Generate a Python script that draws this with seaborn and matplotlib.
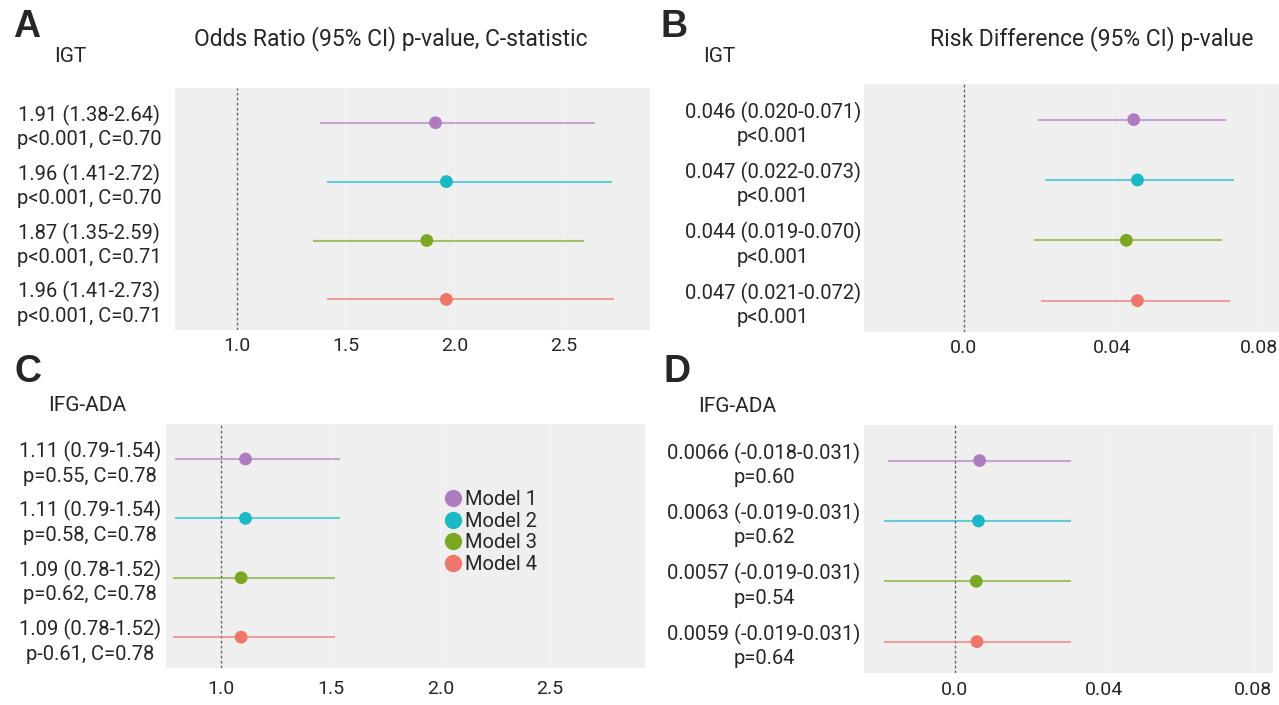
import matplotlib.pyplot as plt
import numpy as np
import pandas as pd
import seaborn as sns

models = ["Model 1", "Model 2", "Model 3", "Model 4"]
colors = ["#B07CC0", "#1DB8C6", "#7BA823", "#F0756B"]

# A - IGT, odds ratio
a_est = [1.91, 1.96, 1.87, 1.96]
a_lo = [1.38, 1.41, 1.35, 1.41]
a_hi = [2.64, 2.72, 2.59, 2.73]
a_p = ["p<0.001", "p<0.001", "p<0.001", "p<0.001"]
a_c = [0.70, 0.70, 0.71, 0.71]

# B - IGT, risk difference
b_est = [0.046, 0.047, 0.044, 0.047]
b_lo = [0.020, 0.022, 0.019, 0.021]
b_hi = [0.071, 0.073, 0.070, 0.072]
b_p = ["p<0.001", "p<0.001", "p<0.001", "p<0.001"]

# C - IFG-ADA, odds ratio
c_est = [1.11, 1.11, 1.09, 1.09]
c_lo = [0.79, 0.79, 0.78, 0.78]
c_hi = [1.54, 1.54, 1.52, 1.52]
c_p = ["p=0.55", "p=0.58", "p=0.62", "p-0.61"]
c_c = [0.78, 0.78, 0.78, 0.78]

# D - IFG-ADA, risk difference
d_est = [0.0066, 0.0063, 0.0057, 0.0059]
d_lo = [-0.018, -0.019, -0.019, -0.019]
d_hi = [0.031, 0.031, 0.031, 0.031]
d_p = ["p=0.60", "p=0.62", "p=0.54", "p=0.64"]

or_ticks = [1.0, 1.5, 2.0, 2.5]
or_ticklabels = ["1.0", "1.5", "2.0", "2.5"]
rd_ticks = [0.0, 0.04, 0.08]
rd_ticklabels = ["0.0", "0.04", "0.08"]

a_labels = [f"{e:.2f} ({l:.2f}-{h:.2f})\n{p}, C={c:.2f}" for e, l, h, p, c in zip(a_est, a_lo, a_hi, a_p, a_c)]
b_labels = [f"{e:.3f} ({l:.3f}-{h:.3f})\n{p}" for e, l, h, p in zip(b_est, b_lo, b_hi, b_p)]
c_labels = [f"{e:.2f} ({l:.2f}-{h:.2f})\n{p}, C={c:.2f}" for e, l, h, p, c in zip(c_est, c_lo, c_hi, c_p, c_c)]
d_labels = [f"{e:.4f} ({l:.3f}-{h:.3f})\n{p}" for e, l, h, p in zip(d_est, d_lo, d_hi, d_p)]

sns.set_style("white")
plt.rcParams["font.family"] = ["Roboto", "DejaVu Sans"]

W, H = 1279, 705
fig = plt.figure(figsize=(W / 100, H / 100), dpi=100)


def px_axes(l, t, r, b):
    return fig.add_axes([l / W, 1 - b / H, (r - l) / W, (b - t) / H])


def forest(ax, est, lo, hi, labels, ref, xlim, ticks, ticklabels, lbl_pad, tick_pad, legend=False):
    df = pd.DataFrame({"model": models, "est": est, "lo": lo, "hi": hi, "row": np.arange(len(models))})
    ax.set_facecolor("#EFEFEF")
    for s in ax.spines.values():
        s.set_visible(False)
    ax.set_xticks(ticks, ticklabels)
    ax.grid(axis="x", color="white", lw=1.0, alpha=0.3)
    ax.axvline(ref, color="#666666", ls=(0, (2, 1.6)), lw=1.0, zorder=1)
    for c, r in zip(colors, df.itertuples()):
        ax.hlines(r.row, r.lo, r.hi, color=c, alpha=0.65, lw=1.5, zorder=2)
    sns.scatterplot(data=df, x="est", y="row", hue="model", palette=colors, s=85,
                    edgecolor="none", legend=legend, ax=ax, zorder=3)
    ax.set_xlim(*xlim)
    ax.set_ylim(3.52, -0.59)
    ax.set_yticks(df["row"], labels)
    for t in ax.get_yticklabels():
        t.set_ha("center")
        t.set_linespacing(1.3)
    ax.tick_params(axis="y", length=0, pad=lbl_pad, labelsize=14.5)
    ax.tick_params(axis="x", length=0, pad=tick_pad, labelsize=14)
    ax.set_xlabel("")
    ax.set_ylabel("")


ax_a = px_axes(175, 88, 650, 330)
forest(ax_a, a_est, a_lo, a_hi, a_labels, 1.0, (0.715, 2.894), or_ticks, or_ticklabels, 62, 5)

ax_b = px_axes(864, 84, 1279, 332)
forest(ax_b, b_est, b_lo, b_hi, b_labels, 0.0, (-0.027, 0.0853), rd_ticks, rd_ticklabels, 65.5, 5)

ax_c = px_axes(166, 424, 645, 668)
forest(ax_c, c_est, c_lo, c_hi, c_labels, 1.0, (0.747, 2.934), or_ticks, or_ticklabels, 54.7, 9, legend=True)
handles, labs = ax_c.get_legend_handles_labels()
ax_c.legend(handles, labs, loc="center left", bbox_to_anchor=(432 / W, 1 - 532 / H),
            bbox_transform=fig.transFigure, frameon=False, fontsize=14.5, markerscale=1.35,
            handletextpad=0.05, labelspacing=0.12, borderpad=0, handlelength=1.1)

ax_d = px_axes(864, 425, 1273, 673)
forest(ax_d, d_est, d_lo, d_hi, d_labels, 0.0, (-0.0244, 0.0853), rd_ticks, rd_ticklabels, 72, 6)


def ftext(x, y, s, **kw):
    fig.text(x / W, 1 - y / H, s, **kw)


ftext(391, 39, "Odds Ratio (95% CI) p-value, C-statistic", ha="center", va="center", fontsize=16.5)
ftext(1092, 39, "Risk Difference (95% CI) p-value", ha="center", va="center", fontsize=16.5)
ftext(70, 56, "IGT", ha="center", va="center", fontsize=15)
ftext(719, 56, "IGT", ha="center", va="center", fontsize=15)
ftext(87, 405, "IFG-ADA", ha="center", va="center", fontsize=15)
ftext(737, 406, "IFG-ADA", ha="center", va="center", fontsize=15)
for letter, x, y in [("A", 27, 27), ("B", 674, 27), ("C", 28, 372), ("D", 677, 372)]:
    ftext(x, y, letter, ha="center", va="center", fontsize=27, fontweight="bold",
          family="Liberation Sans")

fig.savefig("out.png", dpi=100)
